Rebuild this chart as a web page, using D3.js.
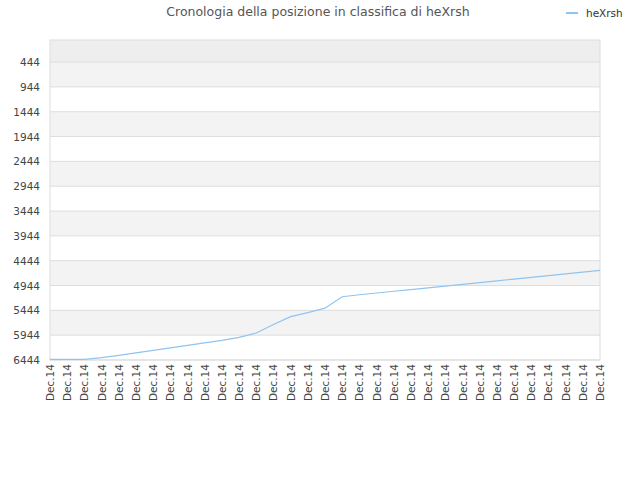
<!DOCTYPE html><html><head><meta charset="utf-8"><script src="https://cdn.jsdelivr.net/npm/d3@7"></script>
<style>body{margin:0;background:#fff}text{font-family:"DejaVu Sans",sans-serif}</style></head><body>
<svg id="c" width="640" height="480"></svg>
<script>
const title="Cronologia della posizione in classifica di heXrsh";
const seriesName="heXrsh";
const yTicks=[444,944,1444,1944,2444,2944,3444,3944,4444,4944,5444,5944,6444];
const values=[6430,6430,6430,6395,6350,6300,6250,6200,6150,6100,6050,5990,5900,5730,5570,5490,5400,5170,5130,5095,5060,5025,4990,4955,4920,4885,4850,4815,4780,4745,4710,4675,4640];
const labels=values.map(()=> "Dec.14");
const svg=d3.select("#c");
const m={l:50,r:600,t:40,b:360};
const x=d3.scaleLinear().domain([0,values.length-1]).range([m.l,m.r]);
const y=d3.scaleLinear().domain([0,6444]).range([m.t,m.b]);
const bands=[0].concat(yTicks);
for(let i=0;i<bands.length-1;i++){
  svg.append("rect").attr("x",m.l).attr("width",m.r-m.l).attr("y",y(bands[i])).attr("height",y(bands[i+1])-y(bands[i]))
   .attr("fill",i==0?"#eeeeee":(i%2==1?"#f3f3f3":"#ffffff"));
}
yTicks.forEach(t=>{
  svg.append("line").attr("x1",m.l).attr("x2",m.r).attr("y1",y(t)).attr("y2",y(t)).attr("stroke","#ddd");
  svg.append("text").attr("x",m.l-10).attr("y",y(t)+4).attr("text-anchor","end").attr("font-size",10.5).attr("fill","#444").text(t);
});
svg.append("rect").attr("x",m.l).attr("y",m.t).attr("width",m.r-m.l).attr("height",m.b-m.t).attr("fill","none").attr("stroke","#ddd");
labels.forEach((l,i)=>{
  svg.append("text").attr("transform",`translate(${x(i)+4},${m.b+4}) rotate(-90)`).attr("text-anchor","end").attr("font-size",10.5).attr("fill","#444").text(l);
});
svg.append("path").datum(values).attr("fill","none").attr("stroke","#90c4f0").attr("stroke-width",1.2)
 .attr("d",d3.line().x((d,i)=>x(i)).y(d=>y(d)));
svg.append("text").attr("x",318).attr("y",16).attr("text-anchor","middle").attr("font-size",12.5).attr("fill","#555").text(title);
svg.append("line").attr("x1",566).attr("x2",578).attr("y1",13).attr("y2",13).attr("stroke","#90c4f0").attr("stroke-width",2);
svg.append("text").attr("x",586).attr("y",17).attr("font-size",10.5).attr("fill","#333").text(seriesName);
</script></body></html>
